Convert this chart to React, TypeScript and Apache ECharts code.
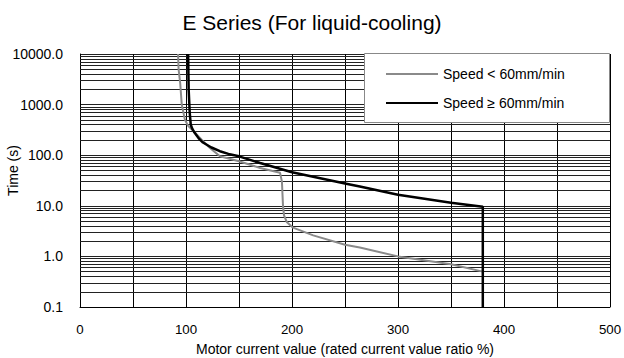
import React, { useEffect, useRef } from "react";
import * as echarts from "echarts";

const titleText = "E Series (For liquid-cooling)";
const xAxisName = "Motor current value (rated current value ratio %)";
const yAxisName = "Time (s)";
const seriesNames = ["Speed < 60mm/min", "Speed \u2265 60mm/min"];

// Speed < 60mm/min (gray)
const slowX = [92.5, 93, 94.5, 96, 99, 102, 107, 115, 122.6, 132, 150, 170, 188.7, 190.5, 191.5, 192.5, 195, 201, 220, 250, 264, 300, 350, 380];
const slowY = [10000, 5000, 2700, 1000, 500, 380, 300, 200, 139, 95, 76, 56, 45, 30, 10, 6.5, 4.8, 3.7, 2.6, 1.7, 1.5, 1.0, 0.7, 0.5];

// Speed >= 60mm/min (black)
const fastX = [102, 102.5, 103.5, 104.5, 106, 108, 112, 116, 124, 132, 140, 150, 170, 200, 250, 264, 300, 350, 380, 380];
const fastY = [10000, 2000, 700, 400, 330, 280, 215, 178, 142, 120, 106, 95, 70, 46, 27.5, 24, 16.5, 11.5, 9.6, 0.1];

const yMin = 0.1;
const yMax = 10000;
const decades = [0.1, 1, 10, 100, 1000];
const minorMultipliers = [2, 3, 4, 5, 6, 7, 8, 9];

const FONT = "Liberation Sans, Arial, sans-serif";

export default function App() {
  const ref = useRef<HTMLDivElement>(null);
  useEffect(() => {
    if (!ref.current) return;
    const chart = echarts.init(ref.current, undefined, { renderer: "svg" });
    const minorGrid: number[] = [];
    decades.forEach((d) => minorMultipliers.forEach((m) => minorGrid.push(+(d * m).toPrecision(3))));
    const pair = (xs: number[], ys: number[]) => xs.map((x, i) => [x, ys[i]]);
    chart.setOption({
      animation: false,
      textStyle: { fontFamily: FONT },
      title: {
        text: titleText,
        left: "center",
        top: 7,
        textStyle: { fontFamily: FONT, fontSize: 21, fontWeight: "normal", color: "#000" },
      },
      grid: { left: 80, right: 14, top: 54, bottom: 51, containLabel: false, outerBoundsMode: "none" },
      legend: {
        orient: "vertical",
        left: 380,
        top: 62,
        itemWidth: 52,
        itemHeight: 14,
        itemGap: 15,
        itemStyle: { opacity: 0 },
        textStyle: { fontFamily: FONT, fontSize: 14, color: "#000" },
        data: seriesNames,
        z: 10,
      },
      graphic: [
        {
          type: "rect",
          shape: { x: 364.5, y: 53.5, width: 245, height: 69 },
          style: { fill: "#fff", stroke: "#888", lineWidth: 1 },
          z: 5,
        },
      ],
      xAxis: {
        type: "value",
        min: 0,
        max: 500,
        interval: 100,
        name: xAxisName,
        nameLocation: "middle",
        nameGap: 35,
        nameMoveOverlap: false,
        nameTextStyle: { fontFamily: FONT, fontSize: 14, color: "#000" },
        axisLine: { show: true, lineStyle: { color: "#000", width: 1 } },
        axisTick: { show: false },
        axisLabel: { fontFamily: FONT, fontSize: 13.3, color: "#000", margin: 16 },
        splitLine: { show: true, lineStyle: { color: "#000", width: 1 } },
        minorTick: { show: false, splitNumber: 2 },
        minorSplitLine: { show: true, lineStyle: { color: "#000", width: 1 } },
      },
      yAxis: {
        type: "log",
        logBase: 10,
        min: yMin,
        max: yMax,
        name: yAxisName,
        nameLocation: "middle",
        nameGap: 60,
        nameMoveOverlap: false,
        nameTextStyle: { fontFamily: FONT, fontSize: 14, color: "#000", padding: [0, 0, 0, 20] },
        axisLine: { show: true, lineStyle: { color: "#000", width: 1 } },
        axisTick: { show: false },
        axisLabel: {
          fontFamily: FONT,
          fontSize: 14,
          color: "#000",
          margin: 17,
          formatter: (v: number) => v.toFixed(1),
        },
        splitLine: { show: true, lineStyle: { color: "#222", width: 1 } },
      },
      series: [
        {
          name: seriesNames[0],
          type: "line",
          data: pair(slowX, slowY),
          symbol: "none",
          lineStyle: { color: "#8a8a8a", width: 2 },
          itemStyle: { color: "#8a8a8a" },
          z: 3,
          markLine: {
            silent: true,
            symbol: "none",
            label: { show: false },
            lineStyle: { color: "#222", width: 1, type: "solid" },
            data: minorGrid.map((v) => ({ yAxis: v })),
            z: 1,
          },
        },
        {
          name: seriesNames[1],
          type: "line",
          data: pair(fastX, fastY),
          symbol: "none",
          lineStyle: { color: "#000", width: 2.5 },
          itemStyle: { color: "#000" },
          z: 4,
        },
      ],
    });
    return () => chart.dispose();
  }, []);
  return (
    <div
      ref={ref}
      style={{ position: "fixed", left: 0, top: 0, width: 624, height: 358, background: "#fff" }}
    />
  );
}
